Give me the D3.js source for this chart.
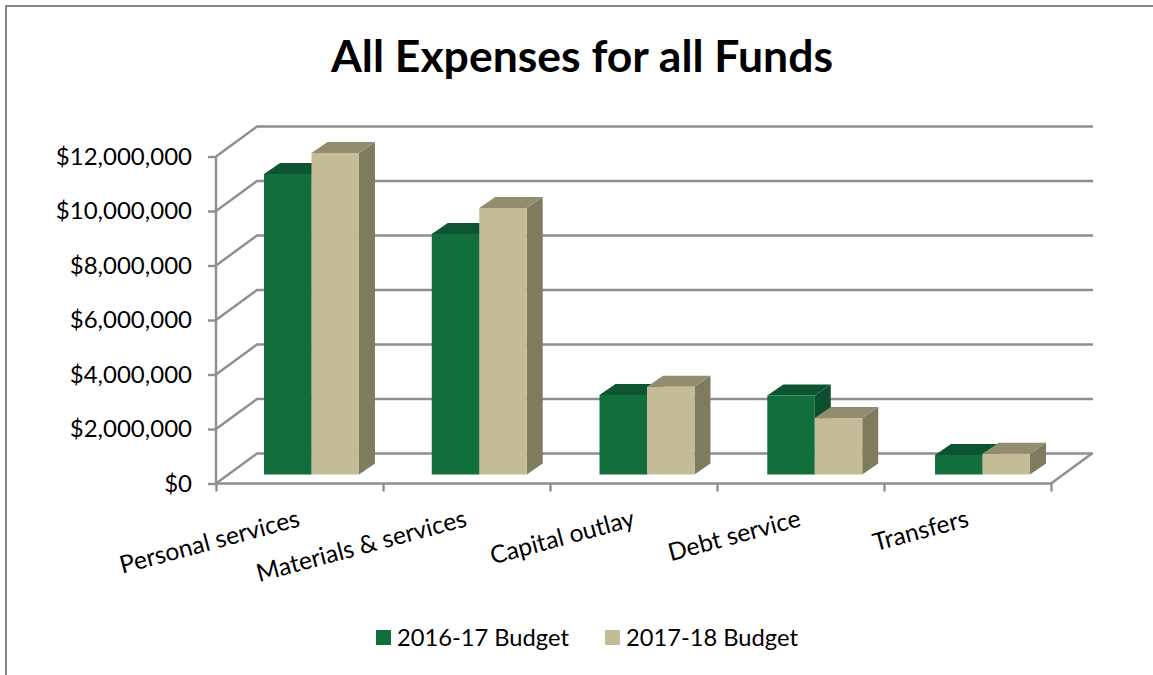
<!DOCTYPE html>
<html><head><meta charset="utf-8">
<script src="https://cdnjs.cloudflare.com/ajax/libs/d3/7.8.5/d3.min.js"></script>
<style>html,body{margin:0;padding:0;background:#fff}svg{display:block}text{font-family:Lato,"Open Sans",sans-serif;fill:#000}</style>
</head><body><svg id="c" width="1153" height="675"></svg>
<script>
const categories=["Personal services","Materials & services","Capital outlay","Debt service","Transfers"];
const budget2016=[11030000,8830000,2920000,2900000,720000];
const budget2017=[11800000,9780000,3220000,2070000,760000];
const seriesNames=["2016-17 Budget","2017-18 Budget"];
const yTicks=[0,2000000,4000000,6000000,8000000,10000000,12000000];
const titleText="All Expenses for all Funds";

const svg=d3.select("#c");
const grid="#8f8f8f";
const colors=[{front:"#126e3d",top:"#0c5530",side:"#0b4f2d"},{front:"#c4bc96",top:"#938d70",side:"#7f7b5f"}];
const depth={x:41,y:-30}, barDepth={x:16,y:-11}, barShift={x:12,y:-9};
const x0=216,x1=1051,yBase=483.5,yTop=156.5;
const y=d3.scaleLinear().domain([0,12000000]).range([yBase,yTop]);
const x=d3.scaleBand().domain(categories).range([x0,x0+838]).paddingInner(0.434).paddingOuter(0.2146);
const xs=d3.scaleBand().domain([0,1]).range([0,x.bandwidth()]);
const labelEnd=[301,468,636,802,970];

// frame
svg.append("path").attr("d","M6,675V6H1153").attr("fill","none").attr("stroke","#868686").attr("stroke-width",2);
// title
svg.append("text").attr("x",582).attr("y",72).attr("text-anchor","middle").attr("font-size",44.5).attr("font-weight",700).text(titleText);

// walls
svg.append("g").selectAll("path").data(yTicks).join("path")
  .attr("d",d=>`M${x0},${y(d)}l${depth.x},${depth.y}H${x1+depth.x+1}`)
  .attr("fill","none").attr("stroke",grid).attr("stroke-width",2.4);
svg.append("path").attr("d",`M${x1},${yBase}l${depth.x},${depth.y}`).attr("fill","none").attr("stroke",grid).attr("stroke-width",2.4);

// axes
const yAxis=d3.axisLeft(y).tickValues(yTicks).tickSize(8).tickPadding(16).tickFormat(d=>"$"+d3.format(",")(d));
const gy=svg.append("g").attr("transform",`translate(${x0},0)`).call(yAxis);
const xAxis=d3.axisBottom(d3.scaleLinear().domain([0,5]).range([x0,x1])).ticks(5).tickSize(8).tickFormat("");
const gx=svg.append("g").attr("transform",`translate(0,${yBase})`).call(xAxis);
[gy,gx].forEach(g=>{g.selectAll("path,line").attr("stroke",grid).attr("stroke-width",2.4);g.select(".domain").attr("d",g===gy?`M0,${yBase}V${yTop}`:`M${x0},0H${x1}`);});
gy.selectAll("text").attr("font-size",24).attr("font-family",'Lato,"Open Sans",sans-serif').attr("fill","#000");

// bars
[budget2016,budget2017].forEach((vals,s)=>{
  const g=svg.append("g");
  categories.forEach((c,i)=>{
    const v=vals[i];
    const l=x(c)+xs(s)+barShift.x, w=xs.bandwidth();
    const b=y(0)+barShift.y, t=y(v)+barShift.y;
    const dx=barDepth.x, dy=barDepth.y;
    g.append("path").attr("d",`M${l+w},${b}V${t}l${dx},${dy}V${b+dy}Z`).attr("fill",colors[s].side);
    g.append("path").attr("d",`M${l},${t}H${l+w}l${dx},${dy}H${l+dx}Z`).attr("fill",colors[s].top);
    g.append("rect").attr("x",l).attr("y",t).attr("width",w).attr("height",b-t).attr("fill",colors[s].front);
  });
});

// category labels
svg.append("g").selectAll("text").data(categories).join("text")
  .attr("text-anchor","end").attr("font-size",24.6)
  .attr("transform",(d,i)=>`translate(${labelEnd[i]},${526}) rotate(-15)`)
  .text(d=>d);

// legend
const lg=svg.append("g");
[[376,397],[605,626]].forEach((p,i)=>{
  lg.append("rect").attr("x",p[0]).attr("y",630).attr("width",15).attr("height",15).attr("fill",colors[i].front);
  lg.append("text").attr("x",p[1]).attr("y",646).attr("font-size",23.7).text(seriesNames[i]);
});
</script></body></html>
